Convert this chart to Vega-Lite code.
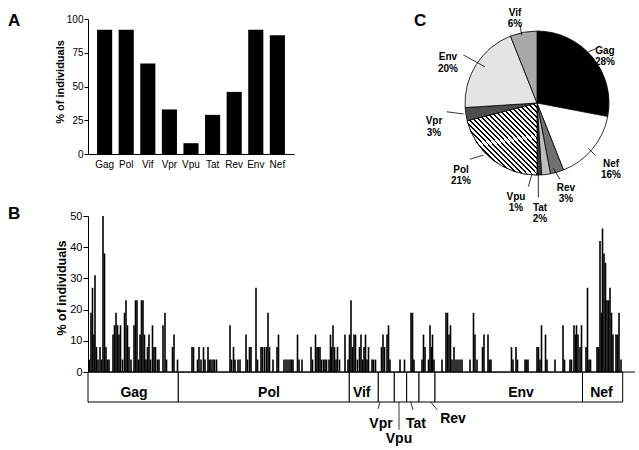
{
  "$schema": "https://vega.github.io/schema/vega-lite/v6.json",
  "background": "white",
  "padding": {"left": 8, "top": 7, "right": 2, "bottom": 2},
  "config": {
    "font": "Liberation Sans",
    "view": {"stroke": null},
    "axis": {"domainColor": "black", "tickColor": "black", "labelColor": "black", "titleColor": "black", "grid": false, "labelFont": "Liberation Sans", "titleFont": "Liberation Sans"},
    "title": {"font": "Liberation Sans", "fontSize": 17, "fontWeight": "bold", "color": "black", "anchor": "start", "frame": "group", "baseline": "alphabetic"},
    "text": {"font": "Liberation Sans", "color": "black"}
  },
  "datasets": {
    "panelA": [
      {"protein": "Gag", "pct": 92}, {"protein": "Pol", "pct": 92}, {"protein": "Vif", "pct": 67},
      {"protein": "Vpr", "pct": 33}, {"protein": "Vpu", "pct": 8}, {"protein": "Tat", "pct": 29},
      {"protein": "Rev", "pct": 46}, {"protein": "Env", "pct": 92}, {"protein": "Nef", "pct": 88}
    ],
    "peptides": [
      {"pos": 1.5, "pct": 4}, {"pos": 3, "pct": 19}, {"pos": 4.5, "pct": 27}, {"pos": 6, "pct": 12}, {"pos": 7, "pct": 31},
      {"pos": 8.5, "pct": 8}, {"pos": 10, "pct": 4}, {"pos": 12, "pct": 8}, {"pos": 13.5, "pct": 4}, {"pos": 15, "pct": 50},
      {"pos": 16.5, "pct": 38}, {"pos": 18, "pct": 8}, {"pos": 19.5, "pct": 4}, {"pos": 21, "pct": 4}, {"pos": 25, "pct": 12},
      {"pos": 26.5, "pct": 15}, {"pos": 28, "pct": 19}, {"pos": 29.5, "pct": 15}, {"pos": 31, "pct": 12}, {"pos": 32.5, "pct": 15},
      {"pos": 34.5, "pct": 4}, {"pos": 36.5, "pct": 19}, {"pos": 38, "pct": 23}, {"pos": 39.5, "pct": 15}, {"pos": 41, "pct": 8},
      {"pos": 43, "pct": 4}, {"pos": 46, "pct": 15}, {"pos": 47.5, "pct": 23}, {"pos": 49, "pct": 23}, {"pos": 50.5, "pct": 4},
      {"pos": 52, "pct": 12}, {"pos": 53.5, "pct": 23}, {"pos": 55, "pct": 23}, {"pos": 56.5, "pct": 12}, {"pos": 58, "pct": 4},
      {"pos": 59.5, "pct": 8}, {"pos": 61, "pct": 12}, {"pos": 62.5, "pct": 4}, {"pos": 64.5, "pct": 15}, {"pos": 66, "pct": 8},
      {"pos": 67.5, "pct": 8}, {"pos": 69.5, "pct": 4}, {"pos": 71, "pct": 4}, {"pos": 75, "pct": 15}, {"pos": 77, "pct": 19},
      {"pos": 78.5, "pct": 4}, {"pos": 84.5, "pct": 8}, {"pos": 86, "pct": 12}, {"pos": 89.5, "pct": 4},
      {"pos": 104, "pct": 8}, {"pos": 105.5, "pct": 8}, {"pos": 109.5, "pct": 4}, {"pos": 111, "pct": 8}, {"pos": 113, "pct": 4},
      {"pos": 115.5, "pct": 8}, {"pos": 117, "pct": 4}, {"pos": 120, "pct": 8}, {"pos": 121.5, "pct": 4}, {"pos": 123, "pct": 4},
      {"pos": 125, "pct": 4}, {"pos": 126.5, "pct": 4}, {"pos": 128.5, "pct": 4}, {"pos": 142, "pct": 15}, {"pos": 143.5, "pct": 4},
      {"pos": 145.5, "pct": 8}, {"pos": 147, "pct": 4}, {"pos": 150, "pct": 4}, {"pos": 152, "pct": 4}, {"pos": 158, "pct": 12},
      {"pos": 159.5, "pct": 4}, {"pos": 161.5, "pct": 8}, {"pos": 163, "pct": 8}, {"pos": 168, "pct": 27}, {"pos": 169.5, "pct": 4},
      {"pos": 173, "pct": 8}, {"pos": 174.5, "pct": 8}, {"pos": 176.5, "pct": 8}, {"pos": 178.5, "pct": 8}, {"pos": 180, "pct": 19},
      {"pos": 181.5, "pct": 8}, {"pos": 185, "pct": 4}, {"pos": 189, "pct": 8}, {"pos": 190.5, "pct": 12}, {"pos": 196, "pct": 4},
      {"pos": 198, "pct": 4}, {"pos": 200, "pct": 4}, {"pos": 202, "pct": 4}, {"pos": 203.5, "pct": 4}, {"pos": 205, "pct": 4},
      {"pos": 209.5, "pct": 12}, {"pos": 211, "pct": 4}, {"pos": 214, "pct": 4}, {"pos": 223, "pct": 8}, {"pos": 224.5, "pct": 4},
      {"pos": 227.5, "pct": 12}, {"pos": 229, "pct": 8}, {"pos": 230.5, "pct": 8}, {"pos": 232, "pct": 8}, {"pos": 233.5, "pct": 4},
      {"pos": 235.5, "pct": 4}, {"pos": 237, "pct": 4}, {"pos": 238.5, "pct": 4}, {"pos": 241, "pct": 4}, {"pos": 242.5, "pct": 12},
      {"pos": 243.5, "pct": 8}, {"pos": 245, "pct": 15}, {"pos": 246.5, "pct": 8}, {"pos": 248, "pct": 4}, {"pos": 249.5, "pct": 8},
      {"pos": 251.5, "pct": 4}, {"pos": 257, "pct": 12}, {"pos": 260, "pct": 4},
      {"pos": 261.5, "pct": 12}, {"pos": 263, "pct": 23}, {"pos": 264.5, "pct": 8}, {"pos": 266, "pct": 12}, {"pos": 267.5, "pct": 12},
      {"pos": 269.5, "pct": 4}, {"pos": 271.5, "pct": 8}, {"pos": 273, "pct": 12}, {"pos": 274.5, "pct": 4}, {"pos": 276, "pct": 8},
      {"pos": 277.5, "pct": 12}, {"pos": 279, "pct": 4}, {"pos": 280.5, "pct": 8}, {"pos": 284, "pct": 4}, {"pos": 285.5, "pct": 4},
      {"pos": 287.5, "pct": 4},
      {"pos": 293.5, "pct": 8}, {"pos": 295, "pct": 12}, {"pos": 296.5, "pct": 8}, {"pos": 299, "pct": 12}, {"pos": 300.5, "pct": 15},
      {"pos": 302, "pct": 4}, {"pos": 312, "pct": 4}, {"pos": 316.5, "pct": 4},
      {"pos": 323, "pct": 19}, {"pos": 324.5, "pct": 19}, {"pos": 326, "pct": 4},
      {"pos": 334, "pct": 4}, {"pos": 335.5, "pct": 12}, {"pos": 337, "pct": 8}, {"pos": 340.5, "pct": 4}, {"pos": 342, "pct": 15},
      {"pos": 343.5, "pct": 8}, {"pos": 344.5, "pct": 12}, {"pos": 346, "pct": 4},
      {"pos": 354, "pct": 4}, {"pos": 358, "pct": 19}, {"pos": 359.5, "pct": 19}, {"pos": 361, "pct": 12}, {"pos": 362.5, "pct": 15},
      {"pos": 364, "pct": 4}, {"pos": 366, "pct": 8}, {"pos": 368, "pct": 4}, {"pos": 370, "pct": 4}, {"pos": 372, "pct": 4},
      {"pos": 374, "pct": 4}, {"pos": 382, "pct": 4}, {"pos": 385.5, "pct": 19}, {"pos": 387, "pct": 12}, {"pos": 389, "pct": 4},
      {"pos": 394.5, "pct": 8}, {"pos": 396, "pct": 12}, {"pos": 400, "pct": 12}, {"pos": 401.5, "pct": 4}, {"pos": 403, "pct": 4},
      {"pos": 423.5, "pct": 8}, {"pos": 425, "pct": 4}, {"pos": 428, "pct": 8}, {"pos": 429.5, "pct": 4}, {"pos": 437, "pct": 4},
      {"pos": 438.5, "pct": 4}, {"pos": 440, "pct": 4}, {"pos": 449, "pct": 8}, {"pos": 450.5, "pct": 8}, {"pos": 452, "pct": 4},
      {"pos": 453.5, "pct": 15}, {"pos": 457.5, "pct": 12}, {"pos": 459, "pct": 4}, {"pos": 467, "pct": 4}, {"pos": 475, "pct": 15},
      {"pos": 476.5, "pct": 4}, {"pos": 482, "pct": 4}, {"pos": 483.5, "pct": 4}, {"pos": 486, "pct": 15}, {"pos": 487.5, "pct": 12},
      {"pos": 488.5, "pct": 15}, {"pos": 490, "pct": 12}, {"pos": 492, "pct": 8}, {"pos": 493.5, "pct": 15},
      {"pos": 498, "pct": 8}, {"pos": 499.5, "pct": 27}, {"pos": 501, "pct": 4}, {"pos": 502.5, "pct": 4}, {"pos": 509, "pct": 8},
      {"pos": 510.5, "pct": 8}, {"pos": 512, "pct": 42}, {"pos": 513.5, "pct": 19}, {"pos": 514.5, "pct": 46}, {"pos": 516, "pct": 38},
      {"pos": 517.5, "pct": 35}, {"pos": 519, "pct": 23}, {"pos": 520.5, "pct": 23}, {"pos": 522, "pct": 27}, {"pos": 523.5, "pct": 19},
      {"pos": 525, "pct": 12}, {"pos": 528, "pct": 12}, {"pos": 529.5, "pct": 12}, {"pos": 531, "pct": 19}, {"pos": 533, "pct": 4}
    ],
    "genes": [
      {"gene": "Gag", "start": 0, "end": 90.3, "labelPos": 46, "inside": true},
      {"gene": "Pol", "start": 90.3, "end": 261.3, "labelPos": 181, "inside": true},
      {"gene": "Vif", "start": 261.3, "end": 290.3, "labelPos": 273.7, "inside": true},
      {"gene": "Vpr", "start": 290.3, "end": 306.3, "labelPos": 293, "inside": false},
      {"gene": "Vpu", "start": 306.3, "end": 318.7, "labelPos": 311, "inside": false},
      {"gene": "Tat", "start": 318.7, "end": 331, "labelPos": 328, "inside": false},
      {"gene": "Rev", "start": 331, "end": 347, "labelPos": 365, "inside": false},
      {"gene": "Env", "start": 347, "end": 494.5, "labelPos": 433, "inside": true},
      {"gene": "Nef", "start": 494.5, "end": 534.7, "labelPos": 513.5, "inside": true}
    ],
    "outsideLabels": [
      {"gene": "Vpr", "labelPos": 293, "labelY": -17.9, "x1": 292, "y1": -9.6, "x2": 290, "y2": -11.8},
      {"gene": "Vpu", "labelPos": 311, "labelY": -22.6, "x1": 311, "y1": -9.6, "x2": 311, "y2": -18.5},
      {"gene": "Tat", "labelPos": 328, "labelY": -17.9, "x1": 322.7, "y1": -9.6, "x2": 325, "y2": -12.1},
      {"gene": "Rev", "labelPos": 365, "labelY": -16.2, "x1": 342.7, "y1": -9.6, "x2": 349.3, "y2": -12.1}
    ],
    "pie": [
      {"gene": "Gag", "pct": 28, "rank": 1}, {"gene": "Nef", "pct": 16, "rank": 2}, {"gene": "Rev", "pct": 3, "rank": 3},
      {"gene": "Tat", "pct": 2, "rank": 4}, {"gene": "Vpu", "pct": 1, "rank": 5}, {"gene": "Pol", "pct": 21, "rank": 6},
      {"gene": "Vpr", "pct": 3, "rank": 7}, {"gene": "Env", "pct": 20, "rank": 8}, {"gene": "Vif", "pct": 6, "rank": 9}
    ],
    "pieLabels": [
      {"label": "Vif\n6%", "lx": 427, "ly": 115.2, "x1": 432, "y1": 111.2, "x2": 433.7, "y2": 108.0},
      {"label": "Gag\n28%", "lx": 517, "ly": 102.9, "x1": 500.3, "y1": 102.6, "x2": 508.7, "y2": 103.7},
      {"label": "Nef\n16%", "lx": 523, "ly": 66.8, "x1": 500.3, "y1": 71.7, "x2": 507, "y2": 69.5},
      {"label": "Rev\n3%", "lx": 478, "ly": 59.0, "x1": 465.3, "y1": 65.3, "x2": 472, "y2": 61.7},
      {"label": "Tat\n2%", "lx": 452, "ly": 52.7, "x1": 450.3, "y1": 63.7, "x2": 450.3, "y2": 56.0},
      {"label": "Vpu\n1%", "lx": 428, "ly": 56.2, "x1": 443.7, "y1": 63.1, "x2": 440.3, "y2": 59.4},
      {"label": "Pol\n21%", "lx": 373, "ly": 64.9, "x1": 395.3, "y1": 69.5, "x2": 382, "y2": 68.2},
      {"label": "Vpr\n3%", "lx": 346, "ly": 80.4, "x1": 375.3, "y1": 82.7, "x2": 358.7, "y2": 83.4},
      {"label": "Env\n20%", "lx": 360, "ly": 100.8, "x1": 397, "y1": 97.8, "x2": 375.3, "y2": 101.6}
    ],
    "panelLetters": [
      {"letter": "B", "lx": -80, "ly": 49},
      {"letter": "C", "lx": 326, "ly": 110.9}
    ]
  },
  "bounds": "flush",
  "spacing": 62,
  "vconcat": [
    {
      "width": 206,
      "height": 135,
      "title": {"text": "A", "dx": -80, "dy": 20},
      "data": {"name": "panelA"},
      "mark": {"type": "bar", "color": "black"},
      "encoding": {
        "x": {"field": "protein", "type": "nominal", "sort": null,
              "scale": {"paddingInner": 0.3, "paddingOuter": 0.42},
              "axis": {"title": null, "labelAngle": 0, "ticks": false, "labelFontSize": 10, "labelPadding": 5}},
        "y": {"field": "pct", "type": "quantitative", "scale": {"domain": [0, 100], "nice": false},
              "axis": {"values": [0, 25, 50, 75, 100], "title": "% of individuals", "titleFontSize": 11, "titleFontWeight": "bold",
                       "labelFontSize": 10, "tickSize": 4, "labelPadding": 1, "titleX": -25, "titleY": 62.5, "titleBaseline": "alphabetic"}}
      }
    },
    {
      "width": 547,
      "height": 186,
      "resolve": {"axis": {"y": "independent", "x": "independent"}},
      "layer": [
        {
          "data": {"name": "peptides"},
          "mark": {"type": "bar", "color": "black", "width": 1.6},
          "encoding": {
            "x": {"field": "pos", "type": "quantitative", "scale": {"domain": [0, 547], "nice": false, "zero": false, "padding": 0}, "axis": null},
            "y": {"field": "pct", "type": "quantitative", "stack": null, "scale": {"domain": [-9.6, 50], "nice": false, "zero": false},
                  "axis": {"values": [0, 10, 20, 30, 40, 50], "title": "% of individuals", "titleFontSize": 12.5, "titleFontWeight": "bold",
                           "labelFontSize": 11, "tickSize": 5, "labelPadding": 1, "titleX": -23, "titleY": 71.5, "titleBaseline": "alphabetic"}},
            "y2": {"datum": 0}
          }
        },
        {
          "data": {"name": "genes"},
          "mark": {"type": "rect", "fill": "white", "stroke": "black", "strokeWidth": 1},
          "encoding": {
            "x": {"field": "start", "type": "quantitative", "axis": null},
            "x2": {"field": "end"},
            "y": {"datum": 0, "axis": null},
            "y2": {"datum": -9.6}
          }
        },
        {
          "data": {"values": [{}]},
          "mark": {"type": "rule", "color": "black", "strokeWidth": 1},
          "encoding": {"y": {"datum": 0, "axis": null}}
        },
        {
          "data": {"name": "genes"},
          "transform": [{"filter": "datum.inside"}],
          "mark": {"type": "text", "fontSize": 14, "fontWeight": "bold", "baseline": "alphabetic", "align": "center"},
          "encoding": {
            "x": {"field": "labelPos", "type": "quantitative", "axis": null},
            "y": {"datum": -7.9, "axis": null},
            "text": {"field": "gene"}
          }
        },
        {
          "data": {"name": "outsideLabels"},
          "mark": {"type": "rule", "color": "black", "strokeWidth": 0.8},
          "encoding": {
            "x": {"field": "x1", "type": "quantitative", "axis": null},
            "y": {"field": "y1", "type": "quantitative", "axis": null},
            "x2": {"field": "x2"},
            "y2": {"field": "y2"}
          }
        },
        {
          "data": {"name": "outsideLabels"},
          "mark": {"type": "text", "fontSize": 14, "fontWeight": "bold", "baseline": "alphabetic", "align": "center"},
          "encoding": {
            "x": {"field": "labelPos", "type": "quantitative", "axis": null},
            "y": {"field": "labelY", "type": "quantitative", "axis": null},
            "text": {"field": "gene"}
          }
        },
        {
          "data": {"name": "pie"},
          "mark": {"type": "arc", "outerRadius": 72, "stroke": "black", "strokeWidth": 0.8},
          "encoding": {
            "x": {"datum": 449, "axis": null},
            "y": {"datum": 86.2, "axis": null},
            "theta": {"field": "pct", "type": "quantitative"},
            "order": {"field": "rank", "type": "quantitative"},
            "color": {"field": "gene", "type": "nominal", "legend": null,
                      "scale": {"domain": ["Gag", "Nef", "Rev", "Tat", "Vpu", "Pol", "Vpr", "Env", "Vif"],
                                "range": ["#000000", "#ffffff", "#707070", "#bdbdbd", "#3a3a3a", "#9a9a9a", "#4d4d4d", "#e4e4e4", "#a8a8a8"]}}
          }
        },
        {
          "data": {"name": "pie"},
          "transform": [
            {"stack": "pct", "groupby": [], "sort": [{"field": "rank", "order": "ascending"}], "as": ["t0", "t1"]},
            {"filter": "datum.gene === 'Pol'"}
          ],
          "mark": {"type": "arc", "outerRadius": 72, "stroke": "black", "strokeWidth": 0.8,
                   "fill": {"gradient": "linear", "x1": 0, "y1": 1, "x2": 1, "y2": 0, "stops": [
                     {"offset": 0, "color": "black"}, {"offset": 0.0136, "color": "black"}, {"offset": 0.0136, "color": "white"}, {"offset": 0.0357, "color": "white"},
                     {"offset": 0.0357, "color": "black"}, {"offset": 0.0493, "color": "black"}, {"offset": 0.0493, "color": "white"}, {"offset": 0.0714, "color": "white"},
                     {"offset": 0.0714, "color": "black"}, {"offset": 0.085, "color": "black"}, {"offset": 0.085, "color": "white"}, {"offset": 0.1071, "color": "white"},
                     {"offset": 0.1071, "color": "black"}, {"offset": 0.1207, "color": "black"}, {"offset": 0.1207, "color": "white"}, {"offset": 0.1429, "color": "white"},
                     {"offset": 0.1429, "color": "black"}, {"offset": 0.1565, "color": "black"}, {"offset": 0.1565, "color": "white"}, {"offset": 0.1786, "color": "white"},
                     {"offset": 0.1786, "color": "black"}, {"offset": 0.1922, "color": "black"}, {"offset": 0.1922, "color": "white"}, {"offset": 0.2143, "color": "white"},
                     {"offset": 0.2143, "color": "black"}, {"offset": 0.2279, "color": "black"}, {"offset": 0.2279, "color": "white"}, {"offset": 0.25, "color": "white"},
                     {"offset": 0.25, "color": "black"}, {"offset": 0.2636, "color": "black"}, {"offset": 0.2636, "color": "white"}, {"offset": 0.2857, "color": "white"},
                     {"offset": 0.2857, "color": "black"}, {"offset": 0.2993, "color": "black"}, {"offset": 0.2993, "color": "white"}, {"offset": 0.3214, "color": "white"},
                     {"offset": 0.3214, "color": "black"}, {"offset": 0.335, "color": "black"}, {"offset": 0.335, "color": "white"}, {"offset": 0.3571, "color": "white"},
                     {"offset": 0.3571, "color": "black"}, {"offset": 0.3707, "color": "black"}, {"offset": 0.3707, "color": "white"}, {"offset": 0.3929, "color": "white"},
                     {"offset": 0.3929, "color": "black"}, {"offset": 0.4065, "color": "black"}, {"offset": 0.4065, "color": "white"}, {"offset": 0.4286, "color": "white"},
                     {"offset": 0.4286, "color": "black"}, {"offset": 0.4422, "color": "black"}, {"offset": 0.4422, "color": "white"}, {"offset": 0.4643, "color": "white"},
                     {"offset": 0.4643, "color": "black"}, {"offset": 0.4779, "color": "black"}, {"offset": 0.4779, "color": "white"}, {"offset": 0.5, "color": "white"},
                     {"offset": 0.5, "color": "black"}, {"offset": 0.5136, "color": "black"}, {"offset": 0.5136, "color": "white"}, {"offset": 0.5357, "color": "white"},
                     {"offset": 0.5357, "color": "black"}, {"offset": 0.5493, "color": "black"}, {"offset": 0.5493, "color": "white"}, {"offset": 0.5714, "color": "white"},
                     {"offset": 0.5714, "color": "black"}, {"offset": 0.585, "color": "black"}, {"offset": 0.585, "color": "white"}, {"offset": 0.6071, "color": "white"},
                     {"offset": 0.6071, "color": "black"}, {"offset": 0.6207, "color": "black"}, {"offset": 0.6207, "color": "white"}, {"offset": 0.6429, "color": "white"},
                     {"offset": 0.6429, "color": "black"}, {"offset": 0.6565, "color": "black"}, {"offset": 0.6565, "color": "white"}, {"offset": 0.6786, "color": "white"},
                     {"offset": 0.6786, "color": "black"}, {"offset": 0.6922, "color": "black"}, {"offset": 0.6922, "color": "white"}, {"offset": 0.7143, "color": "white"},
                     {"offset": 0.7143, "color": "black"}, {"offset": 0.7279, "color": "black"}, {"offset": 0.7279, "color": "white"}, {"offset": 0.75, "color": "white"},
                     {"offset": 0.75, "color": "black"}, {"offset": 0.7636, "color": "black"}, {"offset": 0.7636, "color": "white"}, {"offset": 0.7857, "color": "white"},
                     {"offset": 0.7857, "color": "black"}, {"offset": 0.7993, "color": "black"}, {"offset": 0.7993, "color": "white"}, {"offset": 0.8214, "color": "white"},
                     {"offset": 0.8214, "color": "black"}, {"offset": 0.835, "color": "black"}, {"offset": 0.835, "color": "white"}, {"offset": 0.8571, "color": "white"},
                     {"offset": 0.8571, "color": "black"}, {"offset": 0.8707, "color": "black"}, {"offset": 0.8707, "color": "white"}, {"offset": 0.8929, "color": "white"},
                     {"offset": 0.8929, "color": "black"}, {"offset": 0.9065, "color": "black"}, {"offset": 0.9065, "color": "white"}, {"offset": 0.9286, "color": "white"},
                     {"offset": 0.9286, "color": "black"}, {"offset": 0.9422, "color": "black"}, {"offset": 0.9422, "color": "white"}, {"offset": 0.9643, "color": "white"},
                     {"offset": 0.9643, "color": "black"}, {"offset": 0.9779, "color": "black"}, {"offset": 0.9779, "color": "white"}, {"offset": 1, "color": "white"}
                   ]}},
          "encoding": {
            "x": {"datum": 449, "axis": null},
            "y": {"datum": 86.2, "axis": null},
            "theta": {"field": "t0", "type": "quantitative"},
            "theta2": {"field": "t1"}
          }
        },
        {
          "data": {"name": "pieLabels"},
          "mark": {"type": "rule", "color": "black", "strokeWidth": 0.8},
          "encoding": {
            "x": {"field": "x1", "type": "quantitative", "axis": null},
            "y": {"field": "y1", "type": "quantitative", "axis": null},
            "x2": {"field": "x2"},
            "y2": {"field": "y2"}
          }
        },
        {
          "data": {"name": "pieLabels"},
          "mark": {"type": "text", "fontSize": 10, "fontWeight": "bold", "baseline": "middle", "align": "center", "lineBreak": "\n", "lineHeight": 11.5},
          "encoding": {
            "x": {"field": "lx", "type": "quantitative", "axis": null},
            "y": {"field": "ly", "type": "quantitative", "axis": null},
            "text": {"field": "label"}
          }
        },
        {
          "data": {"name": "panelLetters"},
          "mark": {"type": "text", "fontSize": 17, "fontWeight": "bold", "baseline": "alphabetic", "align": "left"},
          "encoding": {
            "x": {"field": "lx", "type": "quantitative", "axis": null},
            "y": {"field": "ly", "type": "quantitative", "axis": null},
            "text": {"field": "letter"}
          }
        }
      ]
    }
  ]
}
